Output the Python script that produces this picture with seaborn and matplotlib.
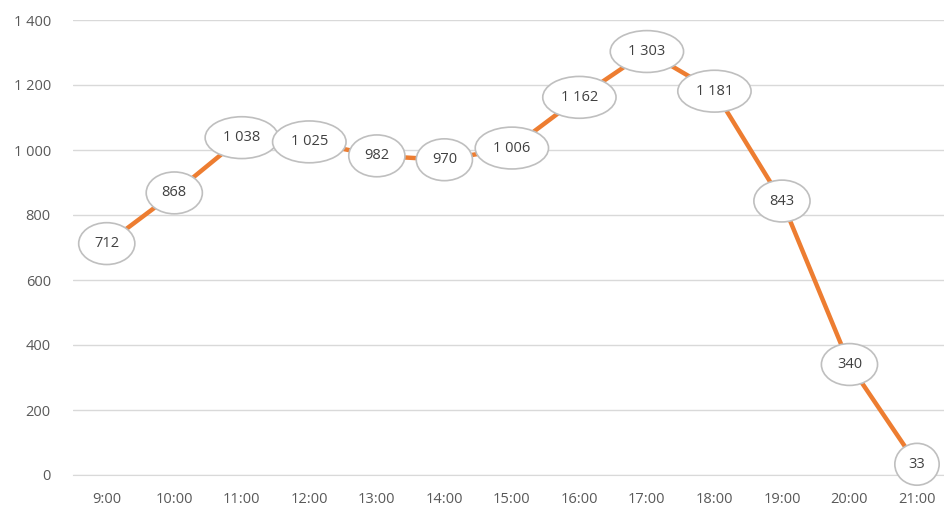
import numpy as np
import pandas as pd
import matplotlib
matplotlib.use("Agg")
import matplotlib.pyplot as plt
import seaborn as sns

hours = ["9:00", "10:00", "11:00", "12:00", "13:00", "14:00", "15:00",
         "16:00", "17:00", "18:00", "19:00", "20:00", "21:00"]
visitors = [712, 868, 1038, 1025, 982, 970, 1006, 1162, 1303, 1181, 843, 340, 33]
y_ticks = [0, 200, 400, 600, 800, 1000, 1200, 1400]

sns.set_style("white")
plt.rcParams['font.family'] = ['Open Sans', 'DejaVu Sans']

df = pd.DataFrame({"hour": hours, "visitors": visitors})
df["pos"] = np.arange(len(df))

fig = plt.figure(figsize=(9.44, 5.07), dpi=100)
ax = fig.add_axes([73 / 944, (507 - 475) / 507, 1 - 73 / 944, (475 - 20) / 507])

sns.lineplot(data=df, x="pos", y="visitors", color="#ED7D31", linewidth=3.2, ax=ax,
             solid_capstyle="round", zorder=3)

def fmt(v):
    return f"{v:,}".replace(",", " ")

for _, r in df.iterrows():
    ax.text(r["pos"], r["visitors"], fmt(r["visitors"]), ha="center", va="center",
            fontsize=10.5, color="#404040", zorder=5,
            bbox=dict(boxstyle="ellipse,pad=0.5", fc="white", ec="#BFBFBF", lw=1.2))

ax.set_xlim(-0.5, 12.4)
ax.set_ylim(0, 1400)
ax.set_xticks(df["pos"])
ax.set_xticklabels(hours)
ax.set_yticks(y_ticks)
ax.set_yticklabels([fmt(v) for v in y_ticks])
ax.yaxis.grid(True, color="#D9D9D9", linewidth=1)
ax.set_axisbelow(True)
for s in ["top", "right", "left"]:
    ax.spines[s].set_visible(False)
ax.spines["bottom"].set_color("#D9D9D9")
ax.tick_params(axis="both", length=0, labelsize=10.5, colors="#595959")
ax.tick_params(axis="y", pad=16)
ax.tick_params(axis="x", pad=12)
ax.set_xlabel("")
ax.set_ylabel("")

fig.savefig("out.png", dpi=100)
